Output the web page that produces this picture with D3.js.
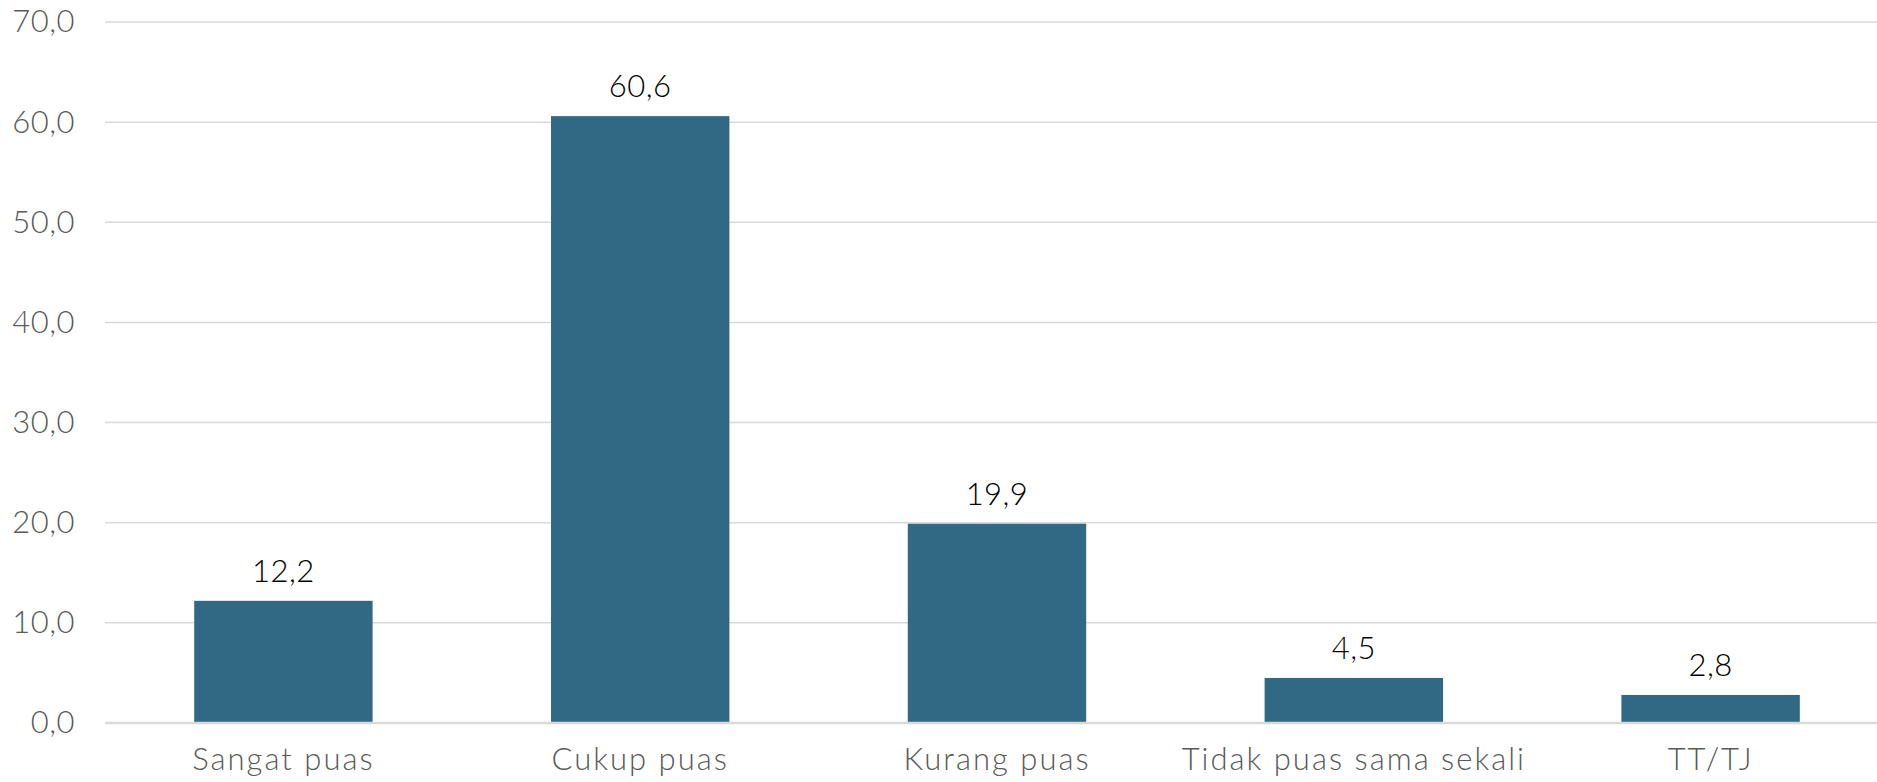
<!DOCTYPE html>
<html><head><meta charset="utf-8">
<script src="https://cdn.jsdelivr.net/npm/d3@7"></script>
<style>html,body{margin:0;padding:0;background:#fff;overflow:hidden}</style>
</head><body>
<svg id="c" width="1877" height="782"></svg>
<script>
const categories = ["Sangat puas", "Cukup puas", "Kurang puas", "Tidak puas sama sekali", "TT/TJ"];
const values = [12.2, 60.6, 19.9, 4.5, 2.8];
const yTicks = [0, 10, 20, 30, 40, 50, 60, 70];

const svg = d3.select("#c");
const fmt = v => d3.format(".1f")(v).replace(".", ",");
const font = "Lato, 'Open Sans', sans-serif";

const x = d3.scaleBand().domain(categories).range([105, 1889]).paddingInner(0.5).paddingOuter(0.25);
const y = d3.scaleLinear().domain([0, 70]).range([723, 22]);

// gridlines
svg.append("g").selectAll("line").data(yTicks.filter(d => d > 0)).join("line")
  .attr("x1", 105).attr("x2", 1877)
  .attr("y1", d => y(d)).attr("y2", d => y(d))
  .attr("stroke", "#d9d9d9").attr("stroke-width", 1.5);

// y axis labels
const yAxis = d3.axisLeft(y).tickValues(yTicks).tickFormat(fmt).tickSize(0).tickPadding(0);
const ga = svg.append("g").attr("transform", "translate(75,0)").call(yAxis);
ga.select(".domain").remove();
ga.selectAll("text").attr("font-family", font).attr("font-size", 31).attr("font-weight", 300)
  .attr("letter-spacing", 0.5).attr("fill", "#595959");

// bars
svg.append("g").selectAll("rect").data(values).join("rect")
  .attr("x", (d, i) => x(categories[i]))
  .attr("width", x.bandwidth())
  .attr("y", d => y(d))
  .attr("height", d => y(0) - y(d))
  .attr("fill", "#316985");

// baseline
svg.append("line").attr("x1", 105).attr("x2", 1877).attr("y1", y(0)).attr("y2", y(0))
  .attr("stroke", "#d9d9d9").attr("stroke-width", 2.5);

// x axis labels
const xAxis = d3.axisBottom(x).tickSize(0).tickPadding(0);
const gx = svg.append("g").attr("transform", "translate(0,748)").call(xAxis);
gx.select(".domain").remove();
gx.selectAll("text").attr("font-family", font).attr("font-size", 31).attr("font-weight", 300)
  .attr("letter-spacing", 2).attr("fill", "#595959");

// data labels
svg.append("g").selectAll("text").data(values).join("text")
  .attr("x", (d, i) => x(categories[i]) + x.bandwidth() / 2)
  .attr("y", d => y(d) - 19)
  .attr("text-anchor", "middle")
  .attr("font-family", font).attr("font-size", 31).attr("font-weight", 300)
  .attr("letter-spacing", 0.5).attr("fill", "#000")
  .text(d => fmt(d));
</script>
</body></html>
